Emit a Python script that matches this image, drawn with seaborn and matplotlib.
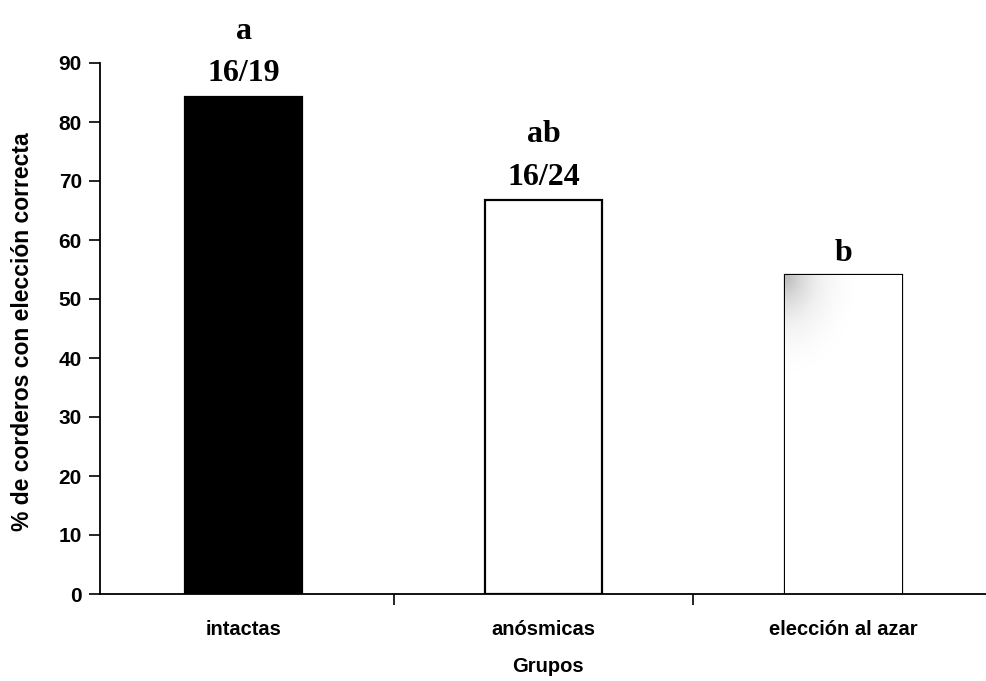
import matplotlib
matplotlib.use("Agg")
import matplotlib.pyplot as plt
import numpy as np
import pandas as pd
import seaborn as sns

grupos = ["intactas", "anósmicas", "elección al azar"]
porcentaje = [84.2, 66.7, 54.0]
proporcion = ["16/19", "16/24", ""]
letras = ["a", "ab", "b"]
y_ticks = [0, 10, 20, 30, 40, 50, 60, 70, 80, 90]

sns.set_theme(style="ticks")
plt.rcParams["font.family"] = ["Liberation Sans", "DejaVu Sans"]
plt.rcParams["text.color"] = "black"
plt.rcParams["axes.labelcolor"] = "black"
plt.rcParams["xtick.color"] = "black"
plt.rcParams["ytick.color"] = "black"
plt.rcParams["axes.edgecolor"] = "black"

df = pd.DataFrame({"grupo": grupos, "pct": porcentaje})

fig = plt.figure(figsize=(9.87, 6.81), dpi=100)
ax = fig.add_axes([100 / 987, 1 - 594 / 681, 887 / 987, (594 - 63) / 681])

sns.barplot(data=df, x="grupo", y="pct", ax=ax, width=0.39,
            palette=["black", "white", "white"], hue="grupo", legend=False,
            edgecolor="black", linewidth=1.6, saturation=1)

# faint grey shading in the upper-left corner of the last bar
bar = ax.patches[2]
x0, w = bar.get_x(), bar.get_width()
h = bar.get_height()
yy, xx = np.mgrid[0:1:200j, 0:1:200j]
shade = np.clip(1 - np.hypot(xx * 1.5, (1 - yy) * 3.0), 0, 1) ** 2 * 0.4
img = ax.imshow(shade, extent=[x0, x0 + w, 0, h], origin="lower", cmap="Greys",
                vmin=0, vmax=1, aspect="auto", zorder=bar.get_zorder() + 0.1)
img.set_clip_path(bar)

ax.set_xlim(-0.48, 2.48)
ax.set_ylim(0, 90)
ax.set_yticks(y_ticks)
ax.set_yticklabels([str(t) for t in y_ticks], fontsize=15, fontweight="bold")
ax.set_xticks([0.5, 1.5])
ax.set_xticklabels([])
for i, g in enumerate(grupos):
    ax.text(i, -4.4, g, ha="center", va="top", fontsize=14.5, fontweight="bold",
            clip_on=False)

ax.tick_params(axis="y", direction="out", length=8, width=1.2, pad=5)
ax.tick_params(axis="x", direction="out", length=8, width=1.2)
sns.despine(ax=ax, top=True, right=True)
ax.spines["left"].set_linewidth(1.3)
ax.spines["bottom"].set_linewidth(1.3)

ax.set_xlabel("")
ax.set_ylabel("")
fig.text(23 / 987, 1 - 332 / 681, "% de corderos con elección correcta",
         rotation=90, ha="center", va="center", fontsize=16.5, fontweight="bold")
fig.text(548 / 987, 1 - 667 / 681, "Grupos", ha="center", va="center",
         fontsize=14.5, fontweight="bold")

serif = ["Liberation Serif", "DejaVu Serif"]
for i, (v, p, l) in enumerate(zip(porcentaje, proporcion, letras)):
    if p:
        ax.text(i, v + 1.5, p, ha="center", va="bottom", fontsize=23,
                fontweight="bold", family=serif, clip_on=False)
        ax.text(i, v + 8.7, l, ha="center", va="bottom", fontsize=23,
                fontweight="bold", family=serif, clip_on=False)
    else:
        ax.text(i, v + 1.2, l, ha="center", va="bottom", fontsize=23,
                fontweight="bold", family=serif, clip_on=False)

fig.savefig("out.png", dpi=100)
